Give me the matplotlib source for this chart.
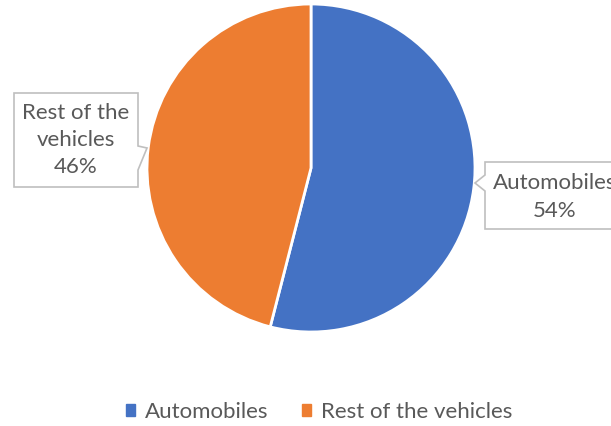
import matplotlib
matplotlib.use("Agg")
import matplotlib.pyplot as plt
from matplotlib.patches import Polygon, Rectangle

categories = ["Automobiles", "Rest of the vehicles"]
values = [54, 46]
colors = ["#4472C4", "#ED7D31"]
label_lines = ["Automobiles", "Rest of the\nvehicles"]

W, H = 611, 426
fig = plt.figure(figsize=(W / 100, H / 100), dpi=100)
plt.rcParams['font.family'] = ['Lato', 'DejaVu Sans']

# pie axes: center (311,168) px from top, radius 164
cx, cy, r = 311, 168, 164
ax = fig.add_axes([(cx - r) / W, (H - cy - r) / H, 2 * r / W, 2 * r / H])
ax.pie(values, colors=colors, startangle=90, counterclock=False, radius=1,
       wedgeprops=dict(edgecolor="white", linewidth=2))
ax.set_xlim(-1, 1)
ax.set_ylim(-1, 1)
ax.set_aspect("equal")
ax.axis("off")

# overlay in pixel coords
ov = fig.add_axes([0, 0, 1, 1], zorder=5)
ov.set_xlim(0, W)
ov.set_ylim(H, 0)
ov.axis("off")
ov.patch.set_alpha(0)

total = sum(values)
txtc = "#595959"
edge = "#BFBFBF"

# left callout (Rest of the vehicles)
left_poly = [(14, 93), (138, 93), (138, 146), (147, 148), (138, 170), (138, 187), (14, 187)]
ov.add_patch(Polygon(left_poly, closed=True, facecolor="white", edgecolor=edge, lw=1.2))
ov.text(76, 140, f"{label_lines[1]}\n{values[1] / total * 100:.0f}%", ha="center", va="center",
        fontsize=16, color=txtc, linespacing=1.45)

# right callout (Automobiles)
right_poly = [(485, 162), (640, 162), (640, 229), (485, 229), (485, 191), (475, 183), (485, 175)]
ov.add_patch(Polygon(right_poly, closed=True, facecolor="white", edgecolor=edge, lw=1.2, clip_on=False))
ov.text(555, 197, f"{label_lines[0]}\n{values[0] / total * 100:.0f}%", ha="center", va="center",
        fontsize=16, color=txtc, linespacing=1.45)

# legend
fig.legend(handles=[Rectangle((0, 0), 1, 1, color=c) for c in colors], labels=categories,
           loc="center", bbox_to_anchor=(0.522, 1 - 412 / H), ncol=2, frameon=False,
           fontsize=16, labelcolor=txtc, handlelength=0.4, handleheight=0.4,
           handletextpad=0.45, columnspacing=1.5)

fig.savefig("out.png", dpi=100)
